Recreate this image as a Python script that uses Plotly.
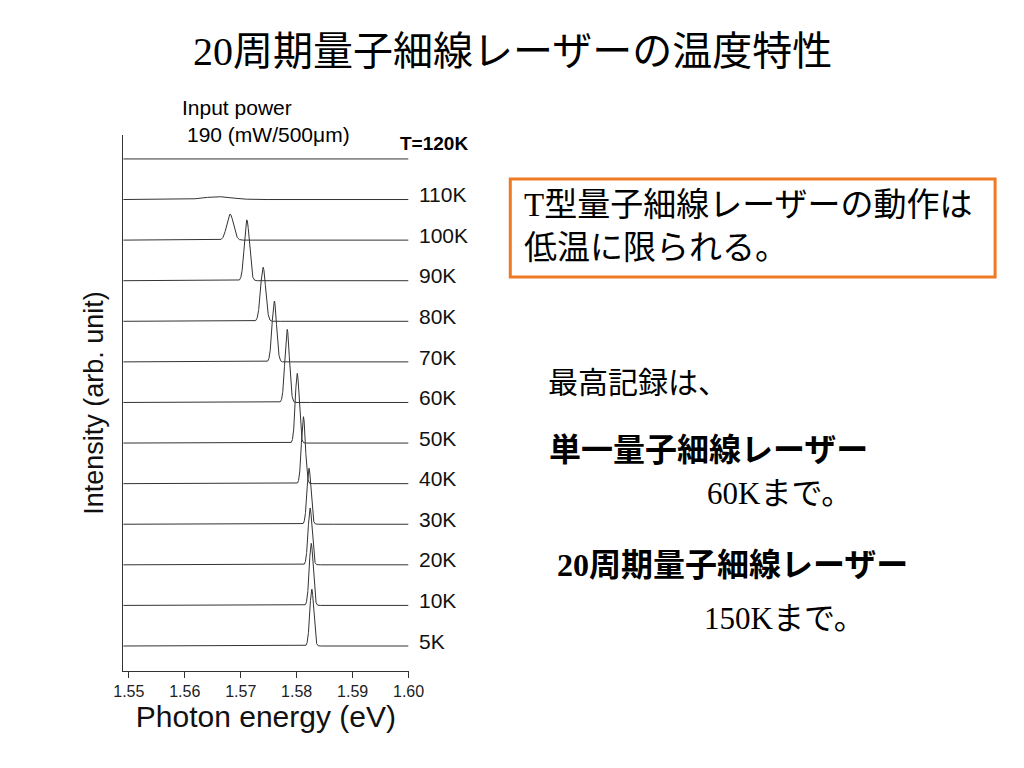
import numpy as np
import plotly.graph_objects as go

temps = ["5K", "10K", "20K", "30K", "40K", "50K", "60K", "70K", "80K", "90K", "100K", "110K", "T=120K"]
peak_E = [1.5827, 1.5826, 1.5824, 1.5822, 1.5812, 1.5801, 1.5783, 1.5760, 1.5740, 1.5711, 1.5681, 1.5659, None]
peak_H = [1.40, 1.53, 1.40, 1.38, 1.65, 1.72, 1.80, 1.50, 1.33, 1.50, 0.64, 0.07, 0.0]
peak_W = [0.00035, 0.00035, 0.00035, 0.00035, 0.00035, 0.00035, 0.00040, 0.00040, 0.00045, 0.00045, 0.00060, 0.0025, 0.001]

OY = 8
def px(x): return ((x - 16.5) / 0.977) / 1024
def py(y): return 1 - (y - OY) / 768

SANS = "Liberation Sans, Arial"
SERIF = "Liberation Serif, Noto Sans CJK JP"
E = np.linspace(1.549, 1.6, 3000)
fig = go.Figure()
for i, (t, e0, h, w) in enumerate(zip(temps, peak_E, peak_H, peak_W)):
    y = np.full_like(E, float(i))
    if e0 is not None:
        y = y + h * np.exp(-0.5 * ((E - e0) / w) ** 2)
    fig.add_trace(go.Scatter(x=E, y=y, mode="lines", line=dict(color="#333333", width=1), showlegend=False, hoverinfo="skip"))
    if i < 12:
        fig.add_annotation(x=1.6, y=i + 0.12, xref="x", yref="y", text=t, showarrow=False, xanchor="left", yanchor="middle",
                           xshift=8, font=dict(family=SANS, size=21, color="#111"))
    else:
        fig.add_annotation(x=px(470), y=py(143), xref="paper", yref="paper", text="<b>%s</b>" % t, showarrow=False,
                           xanchor="right", yanchor="middle", font=dict(family=SANS, size=19, color="#000"))

fig.update_layout(
    width=1024, height=768, margin=dict(l=0, r=0, t=0, b=0), plot_bgcolor="white", paper_bgcolor="white",
    xaxis=dict(domain=[px(122), px(408)], range=[1.549, 1.6], tickvals=[1.55, 1.56, 1.57, 1.58, 1.59, 1.60],
               ticktext=["1.55", "1.56", "1.57", "1.58", "1.59", "1.60"], ticks="outside", ticklen=6, tickcolor="#333",
               showline=True, linecolor="#333", showgrid=False, zeroline=False,
               tickfont=dict(family=SANS, size=16, color="#222"),
               title=dict(text="Photon energy (eV)", font=dict(family=SANS, size=30, color="#111"), standoff=2)),
    yaxis=dict(domain=[py(671), py(135)], range=[-0.616, 12.59], showticklabels=False, ticks="", showline=True,
               linecolor="#333", showgrid=False, zeroline=False,
               title=dict(text="Intensity (arb. unit)", font=dict(family=SANS, size=27, color="#111"), standoff=10)),
)

def txt(x, y, s, font, size, xanchor="left", bold=False):
    fig.add_annotation(x=px(x), y=py(y), xref="paper", yref="paper", showarrow=False, xanchor=xanchor, yanchor="middle",
                       align="left", text=("<b>%s</b>" % s) if bold else s, font=dict(family=font, size=size, color="#000"))

txt(512, 52, "20周期量子細線レーザーの温度特性", SERIF, 40, "center")
txt(236, 107, "Input power", SANS, 21, "center")
txt(268, 134, "190 (mW/500μm)", SANS, 21, "center")
fig.add_shape(type="rect", xref="paper", yref="paper", x0=px(510), x1=px(996), y0=py(277), y1=py(179),
              line=dict(color="#F07A24", width=3))
txt(522, 205, "T型量子細線レーザーの動作は", SERIF, 33)
txt(522, 248, "低温に限られる。", SERIF, 33)
txt(546, 380, "最高記録は、", "Noto Sans CJK JP", 30)
txt(547, 447, "単一量子細線レーザー", "Noto Sans CJK JP", 32, bold=True)
txt(705, 493, "60Kまで。", SERIF, 31)
txt(555, 565, "20周期量子細線レーザー", SERIF, 32, bold=True)
txt(702, 618, "150Kまで。", SERIF, 31)
fig.write_html("out.html")
